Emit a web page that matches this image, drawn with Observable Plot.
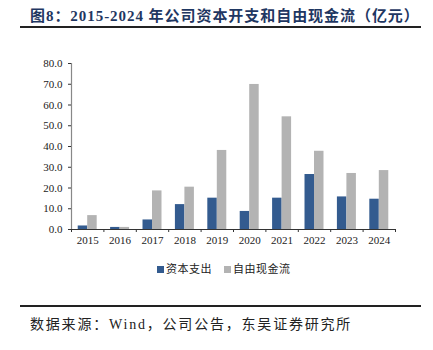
<!DOCTYPE html>
<html><head><meta charset="utf-8">
<script src="https://cdn.jsdelivr.net/npm/d3@7"></script>
<script src="https://cdn.jsdelivr.net/npm/@observablehq/plot@0.6"></script>
<style>
body{margin:0;background:#fff;width:433px;height:350px;position:relative;overflow:hidden;font-family:"Liberation Serif","Noto Sans CJK SC",serif;}
#title{position:absolute;left:30px;top:4px;font-size:15px;font-weight:bold;color:#1f3762;white-space:nowrap;letter-spacing:0.95px;}
#rule1{position:absolute;left:20px;top:26px;width:401px;height:2px;background:#222;}
#chart{position:absolute;left:0;top:50px;}
#legend{position:absolute;left:157px;top:260px;font-size:11px;color:#222;white-space:nowrap;font-family:"Noto Sans CJK SC",sans-serif;letter-spacing:0.5px;}
#legend span.sw{display:inline-block;width:7px;height:7px;margin-right:2px;vertical-align:0px;}
#rule2{position:absolute;left:20px;top:305px;width:401px;height:1.5px;background:#222;}
#source{position:absolute;left:30px;top:313px;font-size:14px;color:#222;white-space:nowrap;letter-spacing:1.8px;}
</style></head>
<body>
<div id="title">图8：2015-2024 年公司资本开支和自由现金流（亿元）</div>
<div id="rule1"></div>
<div id="chart"></div>
<div id="legend"></div>
<div id="rule2"></div>
<div id="source">数据来源：Wind，公司公告，东吴证券研究所</div>
<script>
const years = [2015,2016,2017,2018,2019,2020,2021,2022,2023,2024];
const capex = [1.7,1.0,4.6,12.0,15.1,8.7,15.1,26.5,15.7,14.6];
const fcf = [6.7,1.0,18.6,20.4,38.1,69.9,54.3,37.7,27.0,28.4];
const seriesNames = ["资本支出","自由现金流"];
const colors = ["#335b8f","#b3b3b3"];
const yTicks = [0,10,20,30,40,50,60,70,80];

const data = [];
years.forEach((y,i)=>{
  data.push({year:y, series:seriesNames[0], value:capex[i], off:0});
  data.push({year:y, series:seriesNames[1], value:fcf[i], off:1});
});
const barW = 0.293; // bar width in category units
const groupStart = -0.5 + 0.207;
const boundaries = years.map(y=>y-0.5).concat([years[years.length-1]+0.5]);

const chart = Plot.plot({
  width:433, height:200,
  marginLeft:71, marginRight:38, marginTop:13, marginBottom:21,
  style:{fontFamily:"Liberation Serif, serif", fontSize:"11px", color:"#222", background:"transparent"},
  x:{domain:[years[0]-0.5, years[years.length-1]+0.5]},
  y:{domain:[0,80]},
  color:{domain:seriesNames, range:colors},
  marks:[
    Plot.rectY(data,{
      x1:d=>d.year+groupStart+d.off*barW,
      x2:d=>d.year+groupStart+(d.off+1)*barW,
      y1:0, y2:"value", fill:"series"}),
    Plot.ruleX([years[0]-0.5],{stroke:"#888",strokeWidth:1.2}),
    Plot.ruleY([0],{stroke:"#333",strokeWidth:1}),
    Plot.axisY(yTicks,{tickSize:3, tickPadding:6, tickFormat:d=>d.toFixed(1), stroke:"#333", label:null, fontSize:11}),
    Plot.axisX(boundaries,{tickSize:3, tickFormat:()=>"", stroke:"#333", label:null}),
    Plot.axisX(years,{tickSize:0, tickPadding:7, tickFormat:d=>String(d), label:null, fontSize:11})
  ]
});
document.getElementById("chart").appendChild(chart);

const lg = document.getElementById("legend");
seriesNames.forEach((n,i)=>{
  const s = document.createElement("span");
  s.className="sw"; s.style.background=colors[i];
  lg.appendChild(s);
  const t = document.createElement("span");
  t.textContent = n; t.style.marginRight = i===0 ? "12px":"0";
  lg.appendChild(t);
});
</script>
</body></html>
